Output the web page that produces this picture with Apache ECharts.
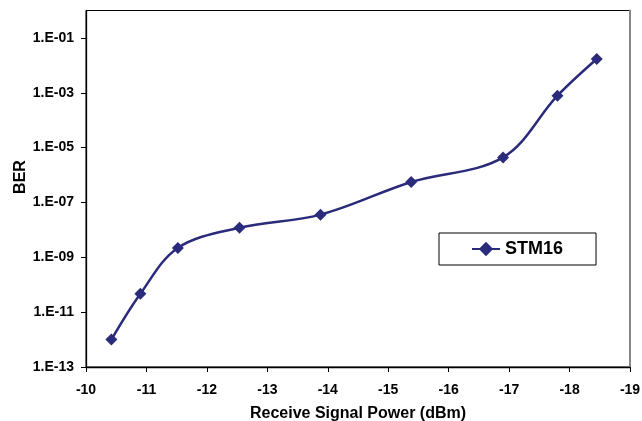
<!DOCTYPE html>
<html>
<head>
<meta charset="utf-8">
<script src="https://cdn.jsdelivr.net/npm/echarts@6/dist/echarts.min.js"></script>
<style>html,body{margin:0;padding:0;background:#fff;}#c{width:642px;height:421px;}</style>
</head>
<body>
<div id="c"></div>
<script>
// Data
var seriesName = 'STM16';
var powerDbm = [-10.42, -10.90, -11.52, -12.54, -13.88, -15.38, -16.90, -17.80, -18.45];
var ber = [1.0e-12, 4.7e-11, 2.2e-9, 1.2e-8, 3.6e-8, 5.6e-7, 4.4e-6, 7.8e-4, 1.7e-2];
var xTicks = [-10, -11, -12, -13, -14, -15, -16, -17, -18, -19];
var yTickExponents = [-13, -11, -9, -7, -5, -3, -1];
var yTickLabels = ['1.E-13', '1.E-11', '1.E-09', '1.E-07', '1.E-05', '1.E-03', '1.E-01'];

var FONT = "'Liberation Sans', Arial, Helvetica, sans-serif";
var lineColor = '#2b2b7b';

var pts = powerDbm.map(function (p, i) { return [p, Math.log10(ber[i])]; });
var labelMap = {};
yTickExponents.forEach(function (e, i) { labelMap[e] = yTickLabels[i]; });

var chart = echarts.init(document.getElementById('c'), null, { renderer: 'canvas' });
chart.setOption({
  animation: false,
  backgroundColor: '#fff',
  grid: { left: 86, right: 12, top: 10.5, bottom: 54, show: true, borderColor: '#000', borderWidth: 1, backgroundColor: 'transparent', containLabel: false, outerBoundsMode: 'none' },
  xAxis: {
    type: 'value', inverse: true, min: -19, max: -10, interval: 1,
    axisLine: { show: true, onZero: false, lineStyle: { color: '#000', width: 1.3 } },
    axisTick: { show: true, inside: false, length: 5, lineStyle: { color: '#000' }, customValues: xTicks },
    axisLabel: { margin: 16, color: '#000', fontFamily: FONT, fontWeight: 'bold', fontSize: 14, customValues: xTicks, showMinLabel: true, showMaxLabel: true },
    splitLine: { show: false },
    name: 'Receive Signal Power (dBm)', nameLocation: 'middle', nameGap: 39,
    nameTextStyle: { color: '#000', fontFamily: FONT, fontWeight: 'bold', fontSize: 16 }
  },
  yAxis: [{
    type: 'value', min: -13, max: 0,
    axisLine: { show: true, onZero: false, lineStyle: { color: '#000', width: 1.3 } },
    axisTick: { show: true, length: 5, lineStyle: { color: '#000' }, customValues: yTickExponents },
    axisLabel: {
      margin: 12, color: '#000', fontFamily: FONT, fontWeight: 'bold', fontSize: 14,
      customValues: yTickExponents,
      formatter: function (v) { return labelMap[Math.round(v)] || ''; }
    },
    splitLine: { show: false }
  }, {
    type: 'value', min: -13, max: 0, position: 'right',
    axisLine: { show: true, onZero: false, lineStyle: { color: '#888', width: 2 } },
    axisTick: { show: false }, axisLabel: { show: false }, splitLine: { show: false }
  }],
  legend: {
    left: 439, top: 233, orient: 'horizontal',
    padding: [7, 33, 7, 32],
    borderColor: '#000', borderWidth: 1, backgroundColor: '#fff',
    itemWidth: 28, itemHeight: 18,
    textStyle: { color: '#000', fontFamily: FONT, fontWeight: 'bold', fontSize: 18 },
    data: [seriesName]
  },
  graphic: [{
    type: 'text', x: 21, y: 177, rotation: Math.PI / 2,
    style: { text: 'BER', fill: '#000', font: 'bold 16px ' + FONT, textAlign: 'center', textVerticalAlign: 'middle' }
  }],
  series: [{
    name: seriesName, type: 'line', data: pts, smooth: 0.35,
    symbol: 'diamond', symbolSize: 12,
    lineStyle: { color: lineColor, width: 2.5 },
    itemStyle: { color: lineColor }
  }]
});
</script>
</body>
</html>
